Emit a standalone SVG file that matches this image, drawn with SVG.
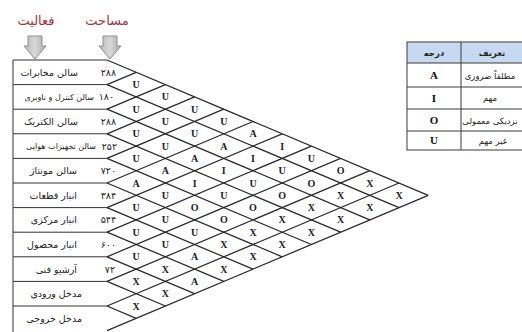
<svg xmlns="http://www.w3.org/2000/svg" width="522" height="332" viewBox="0 0 522 332">
<style>
.ln{stroke:#2a2a2a;stroke-width:1.25;fill:none}
.bx{stroke:#333;stroke-width:1;fill:none}
.rel{font-family:"Liberation Serif",serif;font-weight:bold;font-size:10px;text-anchor:middle;fill:#1c1c2c}
.fa{font-family:"DejaVu Sans","Noto Sans",sans-serif;font-size:9.5px;fill:#222;text-anchor:end}
.fs{font-family:"DejaVu Sans","Noto Sans",sans-serif;font-size:8px;fill:#222;text-anchor:end}
.num{font-family:"DejaVu Sans","Noto Sans",sans-serif;font-size:9.5px;fill:#222;text-anchor:end}
.hd{font-family:"DejaVu Sans","Noto Sans",sans-serif;font-size:13px;fill:#a33838;text-anchor:middle}
.arw{fill:url(#ag);stroke:#8e8e8e;stroke-width:1}
.tb{stroke:#3a3a3a;stroke-width:1;fill:none}
.tl{font-family:"Liberation Serif",serif;font-weight:bold;font-size:11px;text-anchor:middle;fill:#111}
.tf{font-family:"DejaVu Sans","Noto Sans",sans-serif;font-size:8.5px;text-anchor:middle;fill:#222}
</style>
<defs>
<linearGradient id="ag" x1="0" y1="0" x2="1" y2="0">
<stop offset="0" stop-color="#b8b8b8"/><stop offset="0.5" stop-color="#d8d8d8"/><stop offset="1" stop-color="#a8a8a8"/>
</linearGradient>
<clipPath id="cc"><rect x="461" y="42" width="62" height="108"/></clipPath>
</defs>
<rect width="522" height="332" fill="#fff"/>

<g id="headers">
<text class="hd" x="36" y="25">فعالیت</text>
<text class="hd" x="107" y="25">مساحت</text>
<path class="arw" d="M28,36H42V46H46L35,59L24,46H28Z"/>
<path class="arw" d="M103,36H117V46H121L110,59L99,46H103Z"/>
</g>

<g id="rows">
<g id="row0"><path class="bx" d="M107,60H13V84.6"/><text class="fa" x="78" y="75.8">سالن مخابرات</text><text class="num" x="116" y="75.8">۲۸۸</text></g>
<g id="row1"><path class="bx" d="M107,84.6H13V109.2"/><text class="fs" x="94" y="100.2">سالن کنترل و ناوبری</text><text class="num" x="114" y="100.4">۱۸۰</text></g>
<g id="row2"><path class="bx" d="M107,109.2H13V133.8"/><text class="fa" x="78" y="125">سالن الکتریک</text><text class="num" x="116" y="125">۲۸۸</text></g>
<g id="row3"><path class="bx" d="M107,133.8H13V158.4"/><text class="fs" x="96" y="149.4">سالن تجهیزات هوایی</text><text class="num" x="117" y="149.6">۲۵۲</text></g>
<g id="row4"><path class="bx" d="M107,158.4H13V183"/><text class="fa" x="77" y="174.2">سالن مونتاژ</text><text class="num" x="116" y="174.2">۷۲۰</text></g>
<g id="row5"><path class="bx" d="M107,183H13V207.6"/><text class="fa" x="77" y="198.8">انبار قطعات</text><text class="num" x="116" y="198.8">۳۸۴</text></g>
<g id="row6"><path class="bx" d="M107,207.6H13V232.2"/><text class="fa" x="77" y="223.4">انبار مرکزی</text><text class="num" x="116" y="223.4">۵۴۴</text></g>
<g id="row7"><path class="bx" d="M107,232.2H13V256.8"/><text class="fa" x="77" y="248">انبار محصول</text><text class="num" x="116" y="248">۶۰۰</text></g>
<g id="row8"><path class="bx" d="M107,256.8H13V281.4"/><text class="fa" x="77" y="272.6">آرشیو فنی</text><text class="num" x="115" y="272.6">۷۲</text></g>
<g id="row9"><path class="bx" d="M107,281.4H13V306"/><text class="fa" x="82" y="297.2">مدخل ورودی</text></g>
<g id="row10"><path class="bx" d="M107,306H13V332"/><text class="fa" x="82" y="321.8">مدخل خروجی</text></g>
</g>

<g id="connectors">
<path class="ln" d="M107,60L428.2,195.3 M107,84.6L399,207.6 M107,109.2L369.8,219.9 M107,133.8L340.6,232.2 M107,158.4L311.4,244.5 M107,183L282.2,256.8 M107,207.6L253,269.1 M107,232.2L223.8,281.4 M107,256.8L194.6,293.7 M107,281.4L165.4,306 M107,306L136.2,318.3"/>
<path class="ln" d="M107,84.6L136.2,72.3 M107,109.2L165.4,84.6 M107,133.8L194.6,96.9 M107,158.4L223.8,109.2 M107,183L253,121.5 M107,207.6L282.2,133.8 M107,232.2L311.4,146.1 M107,256.8L340.6,158.4 M107,281.4L369.8,170.7 M107,306L399,183 M107,330.6L428.2,195.3"/>
</g>

<g id="relations">
<text class="rel" x="136.2" y="88.1">U</text>
<text class="rel" x="136.2" y="112.7">U</text>
<text class="rel" x="136.2" y="137.3">U</text>
<text class="rel" x="136.2" y="161.9">U</text>
<text class="rel" x="136.2" y="186.5">A</text>
<text class="rel" x="136.2" y="211.1">U</text>
<text class="rel" x="136.2" y="235.7">U</text>
<text class="rel" x="136.2" y="260.3">U</text>
<text class="rel" x="136.2" y="284.9">X</text>
<text class="rel" x="136.2" y="309.5">X</text>

<text class="rel" x="165.4" y="100.4">U</text>
<text class="rel" x="165.4" y="125">U</text>
<text class="rel" x="165.4" y="149.6">U</text>
<text class="rel" x="165.4" y="174.2">A</text>
<text class="rel" x="165.4" y="198.8">U</text>
<text class="rel" x="165.4" y="223.4">U</text>
<text class="rel" x="165.4" y="248">U</text>
<text class="rel" x="165.4" y="272.6">X</text>
<text class="rel" x="165.4" y="297.2">X</text>

<text class="rel" x="194.6" y="112.7">U</text>
<text class="rel" x="194.6" y="137.3">U</text>
<text class="rel" x="194.6" y="161.9">A</text>
<text class="rel" x="194.6" y="186.5">I</text>
<text class="rel" x="194.6" y="211.1">O</text>
<text class="rel" x="194.6" y="235.7">U</text>
<text class="rel" x="194.6" y="260.3">A</text>
<text class="rel" x="194.6" y="284.9">A</text>

<text class="rel" x="223.8" y="125">U</text>
<text class="rel" x="223.8" y="149.6">A</text>
<text class="rel" x="223.8" y="174.2">I</text>
<text class="rel" x="223.8" y="198.8">U</text>
<text class="rel" x="223.8" y="223.4">O</text>
<text class="rel" x="223.8" y="248">X</text>
<text class="rel" x="223.8" y="272.6">X</text>

<text class="rel" x="253" y="137.3">A</text>
<text class="rel" x="253" y="161.9">I</text>
<text class="rel" x="253" y="186.5">U</text>
<text class="rel" x="253" y="211.1">O</text>
<text class="rel" x="253" y="235.7">X</text>
<text class="rel" x="253" y="260.3">X</text>

<text class="rel" x="282.2" y="149.6">I</text>
<text class="rel" x="282.2" y="174.2">U</text>
<text class="rel" x="282.2" y="198.8">O</text>
<text class="rel" x="282.2" y="223.4">X</text>
<text class="rel" x="282.2" y="248">X</text>

<text class="rel" x="311.4" y="161.9">U</text>
<text class="rel" x="311.4" y="186.5">O</text>
<text class="rel" x="311.4" y="211.1">X</text>
<text class="rel" x="311.4" y="235.7">X</text>

<text class="rel" x="340.6" y="174.2">O</text>
<text class="rel" x="340.6" y="198.8">X</text>
<text class="rel" x="340.6" y="223.4">X</text>

<text class="rel" x="369.8" y="186.5">X</text>
<text class="rel" x="369.8" y="211.1">X</text>

<text class="rel" x="399" y="198.8">X</text>
</g>

<g id="legend">
<rect x="407" y="42" width="116" height="21" fill="#c6d9f0"/>
<rect class="tb" x="407" y="42" width="116" height="108"/>
<path class="tb" d="M461,42V150 M407,63H523 M407,87H523 M407,109H523 M407,131H523"/>
<text class="tf" x="434" y="56" font-weight="bold">درجه</text>
<text class="tf" x="492" y="56" font-weight="bold">تعریف</text>
<text class="tl" x="434" y="79">A</text>
<text class="tl" x="434" y="102">I</text>
<text class="tl" x="434" y="124">O</text>
<text class="tl" x="434" y="144">U</text>
<g clip-path="url(#cc)">
<text class="tf" x="490" y="78.5">مطلقاً ضروری</text>
<text class="tf" x="490" y="101">مهم</text>
<text class="tf" x="490" y="123.5">نزدیکی معمولی</text>
<text class="tf" x="493" y="144">غیر مهم</text>
</g>
</g>
</svg>
